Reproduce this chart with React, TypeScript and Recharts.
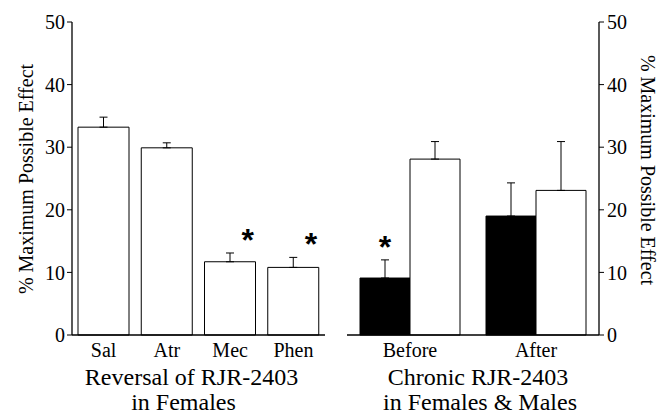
import { Bar, BarChart, ErrorBar, Label, LabelList, XAxis, YAxis } from "recharts";

const FONT = "Liberation Serif";

// left panel: reversal of RJR-2403 in females
const leftCategories = ["Sal", "Atr", "Mec", "Phen"];
const leftMeans = [33.2, 29.9, 11.7, 10.8];
const leftErrors = [1.6, 0.8, 1.4, 1.6];
const leftStars = [false, false, true, true];

// right panel: chronic RJR-2403, black = females, white = males
const rightCategories = ["Before", "After"];
const femaleMeans = [9.1, 19.0];
const femaleErrors = [2.9, 5.3];
const femaleStars = [true, false];
const maleMeans = [28.1, 23.1];
const maleErrors = [2.8, 7.8];

const yTicks = [0, 10, 20, 30, 40, 50];
const yLabel = "% Maximum Possible Effect";

const leftData = leftCategories.map((name, i) => ({
    name,
    mean: leftMeans[i],
    err: [0, leftErrors[i]],
    star: leftStars[i] ? "*" : "",
}));

const rightData = rightCategories.map((name, i) => ({
    name,
    female: femaleMeans[i],
    femaleErr: [0, femaleErrors[i]],
    star: femaleStars[i] ? "*" : "",
    male: maleMeans[i],
    maleErr: [0, maleErrors[i]],
}));

const tickStyle = { fill: "#000", fontSize: 20, fontFamily: FONT, style: { fontFamily: FONT } };

function starRenderer(means: number[], errs: number[], dxFrac: number) {
    return (props: any) => {
        const vb = props.viewBox ?? props;
        const { x, y, width, height } = vb;
        const i = props.index;
        if (!props.value) return null;
        const pxPerUnit = height / means[i];
        const errTop = y - errs[i] * pxPerUnit;
        return (
            <text x={x + width * dxFrac} y={errTop - 2} textAnchor="middle"
                style={{ fontFamily: "Liberation Sans" }} fontWeight="bold" fontSize={32} fill="#000">
                *
            </text>
        );
    };
}

function titleRenderer(line1: string, line2: string, dx1: number, dx2: number) {
    return (props: any) => {
        const { x, y, width } = props.viewBox;
        const cx = x + width / 2;
        return (
            <g style={{ fontFamily: FONT }}>
                <text x={cx + dx1} y={y + 50} textAnchor="middle" fontSize={24} fill="#000">{line1}</text>
                <text x={cx + dx2} y={y + 75} textAnchor="middle" fontSize={24} fill="#000">{line2}</text>
            </g>
        );
    };
}

function sideLabel(dx: number, cy: number, angle: number) {
    return (props: any) => {
        const { x } = props.viewBox;
        const tx = x + dx;
        return (
            <text x={tx} y={cy} transform={`rotate(${angle}, ${tx}, ${cy})`} textAnchor="middle"
                dominantBaseline="central" style={{ fontFamily: FONT }} fontSize={20} fill="#000">
                {yLabel}
            </text>
        );
    };
}

const App = () => {
    return <div style={{ position: "absolute", left: 0, top: 0, width: 666, height: 414, background: "#fff", fontFamily: FONT }}>
        <div style={{ position: "absolute", left: 0, top: 0 }}>
            <BarChart width={340} height={414} data={leftData} margin={{ top: 22, right: 15, bottom: 0, left: 0 }} barSize={51}>
                <XAxis dataKey="name" height={79} tickLine={false} tickSize={0} tickMargin={8} tick={tickStyle}
                    axisLine={{ stroke: "#000", strokeWidth: 1.3 }} interval={0}>
                    <Label content={titleRenderer("Reversal of RJR-2403", "in Females", -7, -15)} />
                </XAxis>
                <YAxis width={72} domain={[0, 50]} ticks={yTicks} tickSize={5} tickMargin={2} tick={tickStyle}
                    axisLine={{ stroke: "#000", strokeWidth: 1.3 }} tickLine={{ stroke: "#000" }}>
                    <Label content={sideLabel(26, 179, -90)} />
                </YAxis>
                <Bar dataKey="mean" fill="#fff" stroke="#000" strokeWidth={1} isAnimationActive={false}>
                    <ErrorBar dataKey="err" direction="y" width={4} stroke="#000" strokeWidth={1} />
                    <LabelList dataKey="star" content={starRenderer(leftMeans, leftErrors, 0.85)} />
                </Bar>
            </BarChart>
        </div>
        <div style={{ position: "absolute", left: 330, top: 0 }}>
            <BarChart width={336} height={414} data={rightData} margin={{ top: 22, right: 0, bottom: 0, left: 17 }} barSize={50} barGap={0}>
                <XAxis dataKey="name" height={79} tickLine={false} tickSize={0} tickMargin={8} tick={tickStyle}
                    axisLine={{ stroke: "#000", strokeWidth: 1.3 }} interval={0}>
                    <Label content={titleRenderer("Chronic RJR-2403", "in Females & Males", 5, 7)} />
                </XAxis>
                <YAxis orientation="right" width={67} domain={[0, 50]} ticks={yTicks} tickSize={5} tickMargin={3} tick={tickStyle}
                    axisLine={{ stroke: "#000", strokeWidth: 1.3 }} tickLine={{ stroke: "#000" }}>
                    <Label content={sideLabel(49, 170, 90)} />
                </YAxis>
                <Bar dataKey="female" fill="#000" stroke="#000" strokeWidth={1} isAnimationActive={false}>
                    <ErrorBar dataKey="femaleErr" direction="y" width={4} stroke="#000" strokeWidth={1} />
                    <LabelList dataKey="star" content={starRenderer(femaleMeans, femaleErrors, 0.5)} />
                </Bar>
                <Bar dataKey="male" fill="#fff" stroke="#000" strokeWidth={1} isAnimationActive={false}>
                    <ErrorBar dataKey="maleErr" direction="y" width={4} stroke="#000" strokeWidth={1} />
                </Bar>
            </BarChart>
        </div>
    </div>
}

export default App;
